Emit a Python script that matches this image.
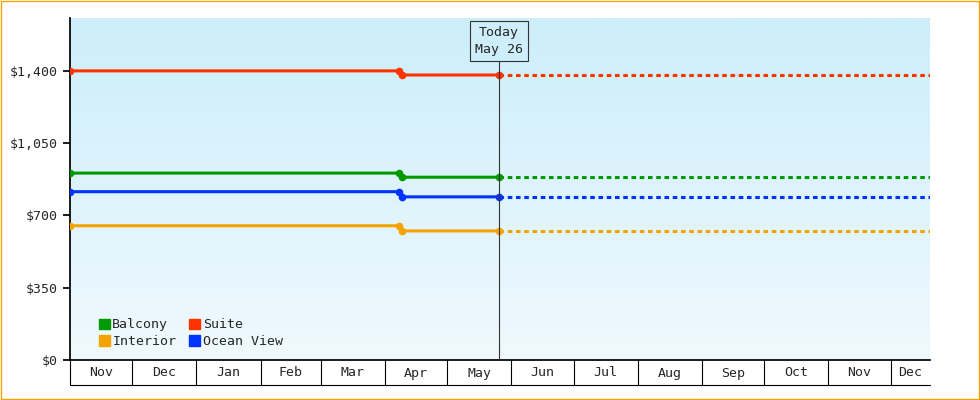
import numpy as np, pandas as pd, matplotlib
matplotlib.use("Agg")
import matplotlib.pyplot as plt, matplotlib.dates as mdates, seaborn as sns
from matplotlib.patches import Patch

series = ["Balcony", "Suite", "Interior", "Ocean View"]
colors = ["#009900", "#ff3300", "#f5a300", "#0033ff"]
dates = ["2023-11-01", "2024-04-08", "2024-04-09", "2024-05-26"]
end_date = "2024-12-20"
balcony = [905, 905, 885, 885]
suite = [1400, 1400, 1380, 1380]
interior = [650, 650, 625, 625]
ocean = [815, 815, 790, 790]
values = [balcony, suite, interior, ocean]
months = ["Nov","Dec","Jan","Feb","Mar","Apr","May","Jun","Jul","Aug","Sep","Oct","Nov","Dec"]
yticks = [0, 350, 700, 1050, 1400]

sns.set_theme(style="white")
plt.rcParams['font.family'] = ['DejaVu Sans Mono']
fig = plt.figure(figsize=(9.8, 4), dpi=100)
fig.patch.set_facecolor("white")
fig.patches.append(plt.Rectangle((0.001, 0.002), 0.998, 0.995, transform=fig.transFigure,
                                 fill=False, edgecolor="#f5a300", lw=1))
ax = fig.add_axes([70/980, 40/400, 860/980, 342/400])
d = pd.to_datetime(dates)
xs, xe = mdates.date2num(pd.Timestamp(dates[0])), mdates.date2num(pd.Timestamp(end_date))
grad = np.linspace(0, 1, 256).reshape(-1, 1)
cmap = matplotlib.colors.LinearSegmentedColormap.from_list("g", ["#cceefa", "#f0f9fe"])
ax.imshow(grad, aspect="auto", cmap=cmap, extent=[0, 1, 0, 1], transform=ax.transAxes, zorder=0)

for name, c, v in zip(series, colors, values):
    df = pd.DataFrame({"date": d, "v": v})
    sns.lineplot(data=df, x="date", y="v", color=c, lw=2.2, marker="o", markersize=5.5,
                 markeredgewidth=0, ax=ax, zorder=3)
    df2 = pd.DataFrame({"date": [d[-1], pd.Timestamp(end_date)], "v": [v[-1], v[-1]]})
    sns.lineplot(data=df2, x="date", y="v", color=c, lw=2.2, ls=(0, (1.5, 1.2)), ax=ax, zorder=3)

ax.set_xlim(xs, xe)
ax.set_ylim(0, 1656)
ax.set_yticks(yticks)
ax.set_yticklabels([f"${t:,}" for t in yticks], fontsize=9.5)
ax.tick_params(axis="y", left=True, length=5, color="black")
ax.set_xticks([])
ax.set_xlabel(""); ax.set_ylabel("")
for s in ["top", "right"]:
    ax.spines[s].set_visible(False)
ax.spines["left"].set_color("black"); ax.spines["bottom"].set_color("black")

today = mdates.date2num(d[-1])
ax.plot([today, today], [0, 1500], color="#333333", lw=0.8, zorder=4)
ax.text(today, 1545, "Today\nMay 26", ha="center", va="center", fontsize=9.5, zorder=5,
        linespacing=1.4,
        bbox=dict(boxstyle="square,pad=0.4", fc="#cdeefa", ec="#333333", lw=0.8))

bounds = pd.date_range("2023-11-01", periods=14, freq="MS")
bn = [mdates.date2num(b) for b in bounds] + [xe]
tr = ax.get_xaxis_transform()
for i, m in enumerate(months):
    ax.plot([bn[i], bn[i]], [0, -25/342], transform=tr, color="black", lw=0.8, clip_on=False)
    ax.text((bn[i] + bn[i+1]) / 2, -13/342, m, transform=tr, ha="center", va="center", fontsize=9.5)
ax.plot([xs, xe], [-25/342, -25/342], transform=tr, color="black", lw=0.8, clip_on=False)

order = [0, 2, 1, 3]
ax.legend([Patch(color=colors[i]) for i in order], [series[i] for i in order], ncol=2,
          loc="lower left", bbox_to_anchor=(0.02, 0.0), frameon=False, fontsize=9.5,
          handlelength=0.8, handleheight=0.8, handletextpad=0.2, columnspacing=1.0,
          labelspacing=0.3)
fig.savefig("out.png", dpi=100)
